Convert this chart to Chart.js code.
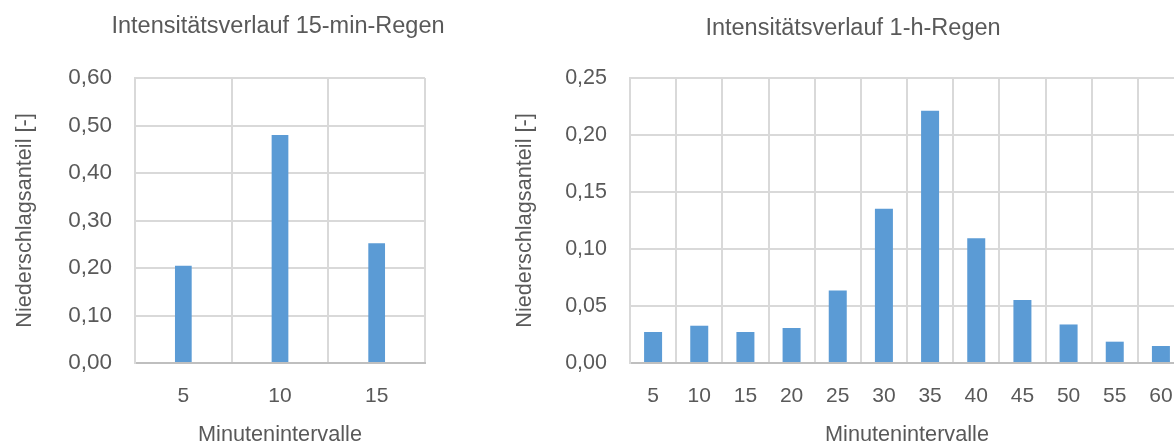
<!DOCTYPE html>
<html>
<head>
<meta charset="utf-8">
<script src="https://cdn.jsdelivr.net/npm/chart.js@4"></script>
<style>
  body { margin: 0; width: 1174px; height: 445px; overflow: hidden; background: #fff; position: relative; }
  canvas { position: absolute; top: 0; }
</style>
</head>
<body>
<canvas id="c15" width="556" height="445" style="left:0px"></canvas>
<canvas id="c60" width="706" height="445" style="left:500px"></canvas>
<script>
const labels15 = ['5', '10', '15'];
const values15 = [0.205, 0.48, 0.252];
const labels60 = ['5', '10', '15', '20', '25', '30', '35', '40', '45', '50', '55', '60'];
const values60 = [0.0272, 0.0327, 0.0272, 0.0307, 0.0636, 0.1354, 0.2212, 0.1095, 0.0552, 0.0338, 0.0187, 0.0149];

const FONT = "'Liberation Sans', Arial, sans-serif";
const TXT = '#595959';
const GRID = '#d9d9d9';
const BLUE = '#5b9bd5';

function comma(v) { return v.toFixed(2).replace('.', ','); }

// title centre y, y tick font size
function makeChart(id, title, labels, values, yMax, yStep, barPct, yWidth, padWidth, titleMid, yTickSize) {
    const ctx = document.getElementById(id).getContext('2d');
    const tSize = 23.5, tLh = tSize * 1.2;
    return new Chart(ctx, {
        type: 'bar',
        data: {
            labels: labels,
            datasets: [{
                data: values,
                backgroundColor: BLUE,
                barPercentage: barPct,
                categoryPercentage: 1
            }]
        },
        options: {
            responsive: false,
            animation: false,
            devicePixelRatio: 1,
            layout: { padding: 0 },
            plugins: {
                legend: { display: false },
                tooltip: { enabled: false },
                title: {
                    display: true,
                    text: title,
                    color: TXT,
                    font: { family: FONT, size: tSize, weight: 'normal', lineHeight: 1.2 },
                    padding: { top: titleMid - tLh / 2, bottom: 78 - titleMid - tLh / 2 }
                }
            },
            scales: {
                x: {
                    grid: { color: GRID, lineWidth: 2, drawTicks: false, offset: true },
                    border: { color: '#bfbfbf', width: 2 },
                    ticks: { color: TXT, font: { family: FONT, size: 21 }, padding: 21, maxRotation: 0 },
                    title: {
                        display: true, text: 'Minutenintervalle', color: TXT,
                        font: { family: FONT, size: 21.7, lineHeight: 0.9 }, padding: 0
                    },
                    afterFit: s => { s.height = 82; }
                },
                y: {
                    min: 0, max: yMax,
                    grid: { color: GRID, lineWidth: 2, drawTicks: false },
                    border: { color: GRID, width: 2 },
                    ticks: { stepSize: yStep, color: TXT, font: { family: FONT, size: yTickSize }, padding: 23, callback: v => comma(v) },
                    title: {
                        display: true, text: 'Niederschlagsanteil [-]', color: TXT,
                        font: { family: FONT, size: 21.7, lineHeight: 1.2 }, padding: { top: 12, bottom: 0 }
                    },
                    afterFit: s => { s.width = yWidth; }
                },
                pad: {
                    type: 'linear', position: 'right', display: true,
                    grid: { display: false }, border: { display: false },
                    ticks: { display: false },
                    afterFit: s => { s.width = padWidth; }
                }
            }
        }
    });
}

makeChart('c15', 'Intensitätsverlauf 15-min-Regen', labels15, values15, 0.6, 0.1, 0.173, 135, 131, 27, 22.5);
makeChart('c60', 'Intensitätsverlauf 1-h-Regen', labels60, values60, 0.25, 0.05, 0.39, 130, 22, 28.5, 21.5);
</script>
</body>
</html>
